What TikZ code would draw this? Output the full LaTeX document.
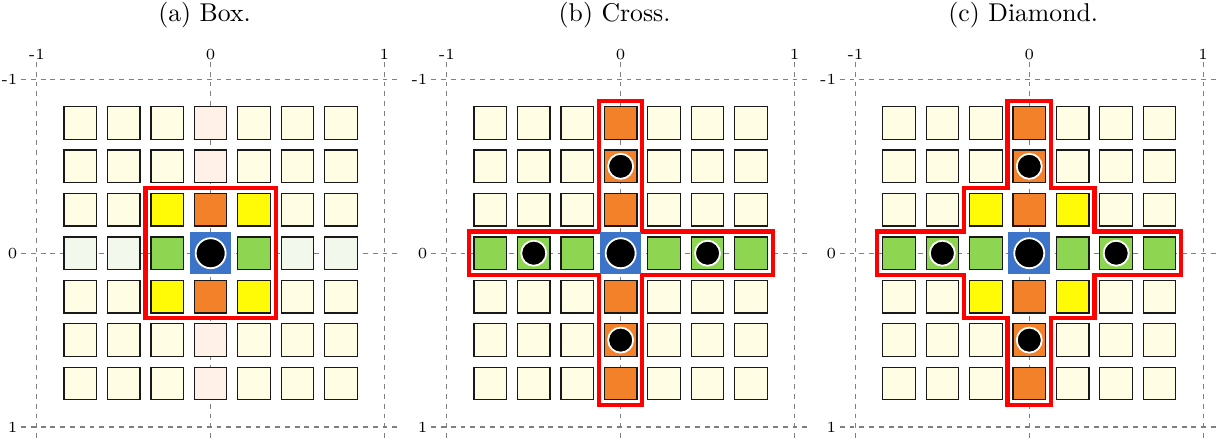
\documentclass[tikz,border=0pt]{standalone}
\usepackage{xcolor}
\usepackage{tikz}

\definecolor{cream}{HTML}{FFFEE5}
\definecolor{blush}{HTML}{FFF1E8}
\definecolor{mint}{HTML}{F3F8ED}
\definecolor{lemon}{HTML}{FFFA05}
\definecolor{tang}{HTML}{F28129}
\definecolor{leaf}{HTML}{8ED552}
\definecolor{blockblue}{HTML}{3B74C9}

\tikzset{
  cell/.style={rectangle, draw=black!90, line width=0.45pt, minimum size=0.445cm,
               inner sep=0pt},
  centre/.style={rectangle, fill=blockblue, minimum size=0.57cm, inner sep=0pt},
  bigdot/.style={circle, fill=black, draw=white, line width=0.7pt,
                 minimum size=0.41cm, inner sep=0pt},
  dot/.style={bigdot, minimum size=0.342cm},
  axisline/.style={black!50, line width=0.45pt, dash pattern=on 1.9pt off 1.9pt},
  ticklab/.style={font=\fontsize{6}{7}\selectfont, inner sep=0.6pt},
  caption/.style={font=\normalsize},
  zone/.style={draw=red, line width=1.6pt}
}

\begin{document}
\begin{tikzpicture}[x=2.377cm, y=-2.377cm]
  \useasboundingbox (-1.212,-1.457) rectangle (5.842,1.080);

  % dashed axes and captions of the three panels
  \foreach \p/\px/\cap in {a/0/{(a) Box.}, b/2.359/{(b) Cross.}, c/4.710/{(c) Diamond.}} {
    \begin{scope}[shift={(\px,0)}]
      \foreach \v in {-1,0,1} {
        \draw[axisline] (-1.09,\v) -- (1.1,\v);
        \draw[axisline] (\v,-1.1) -- (\v,1.1);
        \node[ticklab, anchor=south] (\p x\v) at (\v,-1.1) {\v};
        \node[ticklab, anchor=east] (\p y\v) at (-1.1,\v) {\v};
      }
      \node[caption] (\p cap) at (-0.035,-1.368) {\cap};
    \end{scope}
  }

  % (a) box
  \begin{scope}
    \foreach \c in {1,...,7}
      \foreach \r in {1,...,7} {
        \pgfmathtruncatemacro\dx{abs(\c-4)}
        \pgfmathtruncatemacro\dy{abs(\r-4)}
        \pgfmathtruncatemacro\k{\dx==0 ? (\dy==1 ? 1 : 4) : (\dy==0 ? (\dx==1 ? 2 : 5) : (((\dx==1) && (\dy==1)) ? 3 : 0))}
        \edef\col{\ifcase\k cream\or tang\or leaf\or lemon\or blush\or mint\fi}
        \ifnum\numexpr\dx+\dy\relax>0
          \node[cell, fill=\col] (a\c\r) at ({(\c-4)/4},{(\r-4)/4}) {};
        \fi
      }
    \draw[zone] (-0.375,-0.375) rectangle (0.375,0.375);
    \node[centre] (a44) at (0,0) {};
    \node[bigdot] (adot) at (a44) {};
  \end{scope}

  % (b) cross
  \begin{scope}[shift={(2.359,0)}]
    \foreach \c in {1,...,7}
      \foreach \r in {1,...,7} {
        \pgfmathtruncatemacro\k{\c==4 ? 1 : (\r==4 ? 2 : 0)}
        \edef\col{\ifcase\k cream\or tang\or leaf\fi}
        \ifnum\numexpr\c*\r\relax=16 \else
          \node[cell, fill=\col] (b\c\r) at ({(\c-4)/4},{(\r-4)/4}) {};
        \fi
      }
    \draw[zone] (-0.125,-0.875) -- (0.125,-0.875) -- (0.125,-0.125) -- (0.875,-0.125)
      -- (0.875,0.125) -- (0.125,0.125) -- (0.125,0.875) -- (-0.125,0.875)
      -- (-0.125,0.125) -- (-0.875,0.125) -- (-0.875,-0.125) -- (-0.125,-0.125) -- cycle;
    \node[centre] (b44) at (0,0) {};
    \node[bigdot] (bdot) at (b44) {};
    \foreach \n in {42,46,24,64}
      \node[dot] (bdot\n) at (b\n) {};
  \end{scope}

  % (c) diamond
  \begin{scope}[shift={(4.710,0)}]
    \foreach \c in {1,...,7}
      \foreach \r in {1,...,7} {
        \pgfmathtruncatemacro\dx{abs(\c-4)}
        \pgfmathtruncatemacro\dy{abs(\r-4)}
        \pgfmathtruncatemacro\k{\dx==0 ? 1 : (\dy==0 ? 2 : (((\dx==1) && (\dy==1)) ? 3 : 0))}
        \edef\col{\ifcase\k cream\or tang\or leaf\or lemon\fi}
        \ifnum\numexpr\dx+\dy\relax>0
          \node[cell, fill=\col] (c\c\r) at ({(\c-4)/4},{(\r-4)/4}) {};
        \fi
      }
    \draw[zone] (-0.125,-0.875) -- (0.125,-0.875) -- (0.125,-0.375) -- (0.375,-0.375)
      -- (0.375,-0.125) -- (0.875,-0.125) -- (0.875,0.125) -- (0.375,0.125)
      -- (0.375,0.375) -- (0.125,0.375) -- (0.125,0.875) -- (-0.125,0.875)
      -- (-0.125,0.375) -- (-0.375,0.375) -- (-0.375,0.125) -- (-0.875,0.125)
      -- (-0.875,-0.125) -- (-0.375,-0.125) -- (-0.375,-0.375) -- (-0.125,-0.375) -- cycle;
    \node[centre] (c44) at (0,0) {};
    \node[bigdot] (cdot) at (c44) {};
    \foreach \n in {42,46,24,64}
      \node[dot] (cdot\n) at (c\n) {};
  \end{scope}
\end{tikzpicture}
\end{document}
